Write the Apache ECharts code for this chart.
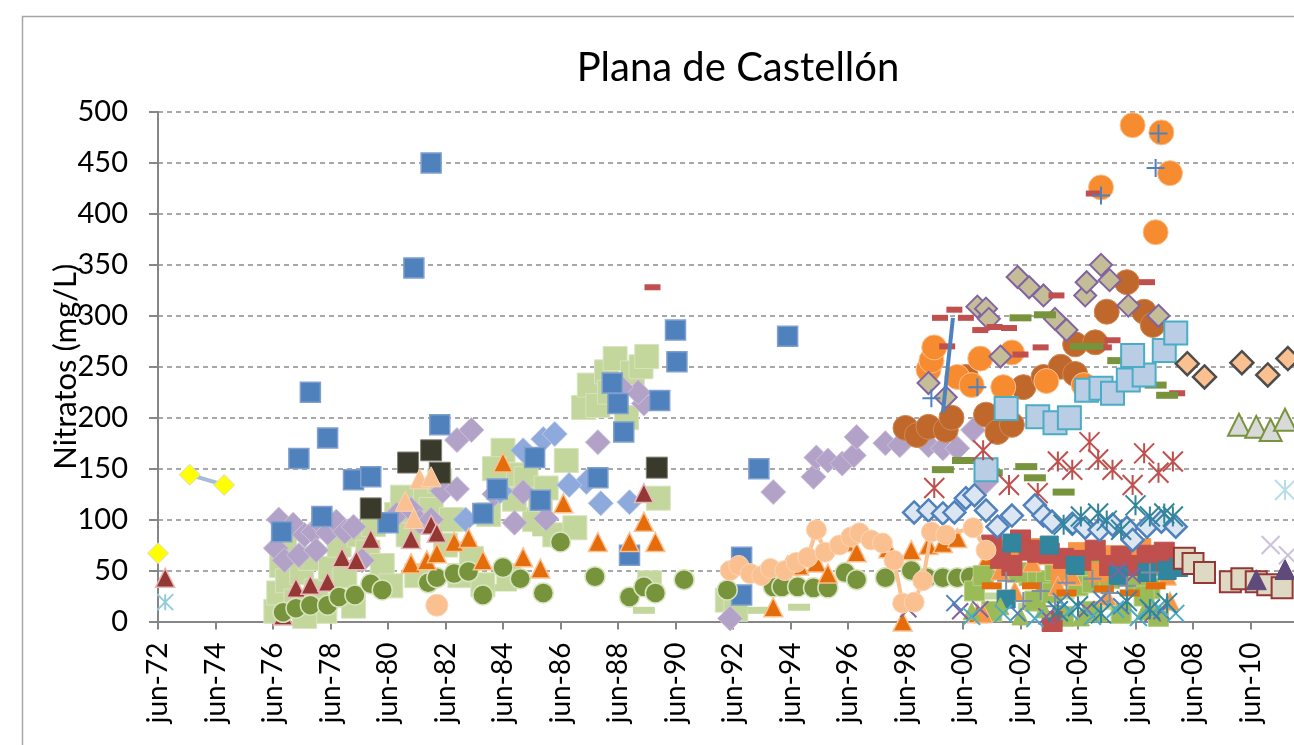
<!DOCTYPE html>
<html><head><meta charset="utf-8">
<script src="https://cdn.jsdelivr.net/npm/echarts@6.0.0/dist/echarts.min.js"></script>
<style>html,body{margin:0;padding:0;background:#fff}#c{width:1294px;height:745px}</style>
</head><body><div id="c"></div>
<script>
// ---------- text ----------
const chartTitle = 'Plana de Castellón';
const yAxisName = 'Nitratos (mg/L)';
const xTickLabels = ['jun-72','jun-74','jun-76','jun-78','jun-80','jun-82','jun-84','jun-86','jun-88','jun-90','jun-92','jun-94','jun-96','jun-98','jun-00','jun-02','jun-04','jun-06','jun-08','jun-10','jun-12'];
const xStart = 1972.5;   // jun-72
const xSpanYears = 40;
const yMin = 0, yMax = 500, yStep = 50;

// ---------- data: [decimal year, mg/L] ----------
const yellowDiamonds = [[1972.5,67],null,[1973.6,144],[1974.8,134]];
const cyanStar = [[1972.75,19]];
const paleGreenSquares = [[1976.6,10],[1976.7,28],[1976.8,55],[1977.0,40],[1977.3,20],[1977.5,48],[1977.8,62],[1978.0,30],[1978.3,10],[1978.5,52],[1978.8,75],[1979.0,45],[1979.3,15],[1979.5,85],[1979.8,68],[1980.0,95],[1980.3,55],[1980.6,35],[1980.8,105],[1981.0,122],[1981.3,100],[1981.5,45],[1981.8,125],[1982.0,110],[1982.3,138],[1982.5,75],[1983.0,45],[1983.4,62],[1983.8,36],[1984.0,105],[1984.5,168],[1984.7,45],[1985.0,144],[1985.3,140],[1985.6,100],[1985.8,120],[1986.0,131],[1986.3,85],[1986.7,158],[1987.0,92],[1987.3,210],[1987.5,232],[1987.8,212],[1988.1,245],[1988.4,258],[1989.0,244],[1989.3,250],[1989.5,260],[1989.9,121],[1989.6,38],[1992.3,21],[1992.6,12],[1984.2,150],[1984.9,120],[1988.2,225],[1988.8,200],[1981.2,85],[1982.7,100],[1976.9,80],[1977.6,5]];
const paleGreenDashes = [[1984.6,33],[1985.9,87],[1989.4,11],[1993.4,11],[1994.8,14],[1983.2,75],[2001.4,25],[2002.8,15],[2004.0,25],[2005.5,15],[2006.8,30]];
const lavenderDiamonds = [[1976.6,72],[1976.7,100],[1976.9,60],[1977.2,95],[1977.4,65],[1977.6,85],[1977.9,88],[1978.2,95],[1978.4,87],[1978.7,98],[1979.0,88],[1979.3,93],[1979.6,60],[1978.0,70],[1980.8,105],[1981.3,110],[1981.6,98],[1982.0,100],[1982.4,128],[1982.9,178],[1983.4,188],[1982.9,130],[1984.2,125],[1984.9,97],[1985.2,127],[1986.0,101],[1987.8,176],[1989.4,214],[1989.2,225],[1988.6,230],[1992.4,3],[1993.9,127],[1995.3,142],[1995.4,161],[1995.8,158],[1996.3,155],[1996.7,163],[1996.8,181],[1997.8,175],[1998.3,173],[1998.8,186],[1999.3,173],[1999.8,170],[2000.3,170],[2000.85,188],[2001.3,137]];
const periwinkleDiamonds = [[1985.2,168],[1985.9,179],[1986.3,184],[1987.4,137],[1987.9,116],[1988.9,117],[1986.8,134],[1984.4,128],[1983.2,100]];
const blueSquares = [[1976.8,88],[1977.4,160],[1977.8,225],[1978.4,180],[1978.2,103],[1979.3,139],[1979.9,142],[1980.5,97],[1981.4,347],[1982.0,450],[1982.3,193],[1983.8,106],[1984.3,130],[1985.6,161],[1985.8,119],[1987.8,141],[1988.3,234],[1988.5,214],[1988.7,186],[1989.95,217],[1990.5,286],[1990.55,255],[1988.9,65],[1992.8,63],[1992.8,26],[1993.4,150],[1994.4,280]];
const blackSquares = [[1979.9,111],[1981.2,156],[1982.0,168],[1982.3,146],[1989.85,151]];
const salmonTriangles = [[1981.1,118],[1981.4,101],[1981.6,140],[1982.0,142]];
const darkRedTriangles = [[1972.75,43],[1976.85,6],[1977.3,33],[1977.8,36],[1978.4,39],[1978.9,63],[1979.4,60],[1979.9,81],[1981.3,81],[1982.0,95],[1982.2,87],[1989.4,126]];
const greenCircles = [[1976.85,9],[1977.3,13],[1977.8,16],[1978.4,16],[1978.8,24],[1979.35,26],[1979.9,37],[1980.3,31],[1981.9,38],[1982.2,43],[1982.8,47],[1983.3,49],[1983.8,26],[1984.5,53],[1985.1,42],[1985.9,28],[1986.5,78],[1987.7,44],[1988.9,24],[1989.4,34],[1989.8,28],[1990.8,41],[1992.3,31],[1993.9,34],[1994.2,34],[1994.75,34],[1995.3,33],[1995.8,33],[1996.4,48],[1996.8,41],[1997.8,43],[1998.7,50],[1999.25,43],[1999.8,43],[2000.3,43],[2000.75,44],[2001.3,46]];
const salmonCircleLone = [[1982.2,16]];
const salmonCircles = [[1992.4,50],[1992.7,55],[1993.1,47],[1993.5,45],[1993.8,52],[1994.3,50],[1994.7,58],[1995.1,63],[1995.4,90],[1995.7,68],[1996.2,75],[1996.6,83],[1996.9,87],[1997.3,80],[1997.7,77],[1998.1,60],[1998.4,18],[1998.8,19],[1999.1,40],[1999.4,88],[1999.9,85],[2000.85,92],[2001.3,70]];
const orangeTriangles = [[1981.3,57],[1981.85,60],[1982.2,67],[1982.8,78],[1983.3,82],[1983.8,60],[1984.5,156],[1985.2,63],[1985.8,52],[1986.6,116],[1987.8,78],[1988.9,78],[1989.4,98],[1989.8,78],[1993.9,14],[1994.4,55],[1994.8,55],[1995.4,58],[1995.8,47],[1996.4,78],[1996.8,68],[1997.9,72],[1998.4,0],[1998.7,70],[1999.3,75],[1999.8,77],[2000.3,82],[2000.85,34],[2001.3,60],[2001.0,8]];
// 1998-2012 wells
const brownCircles = [[1998.5,190],[1998.9,183],[1999.3,191],[1999.9,188],[2000.1,200],[2000.6,240],[2001.3,203],[2001.7,186],[2002.2,193],[2002.6,230],[2003.3,240],[2003.9,250],[2004.4,243],[2004.4,272],[2005.1,274],[2005.5,304],[2006.2,333],[2006.8,304],[2007.1,291]];
const orangeCircles = [[1999.3,247],[1999.4,256],[1999.5,269],[2000.3,240],[2000.8,232],[2001.1,258],[2001.9,230],[2002.2,264],[2003.4,236],[2004.7,232],[2005.3,426],[2006.4,487],[2007.4,480],[2007.7,440],[2007.2,382]];
const tanDiamonds = [[1999.3,234],[1999.9,220],[2001.0,309],[2001.3,307],[2001.4,297],[2001.8,260],[2002.4,338],[2002.8,328],[2003.3,320],[2003.7,297],[2004.1,286],[2004.75,320],[2004.8,333],[2005.3,350],[2005.6,335],[2006.25,310],[2007.3,300]];
const redDashes = [[1989.7,328],[1999.7,298],[2000.2,306],[2000.6,298],[2001.1,286],[2001.6,289],[2002.1,288],[1999.95,270],[2002.5,262],[2003.2,269],[2003.75,320],[2005.7,276],[2006.9,333],[2005.4,269],[2005.05,420],[2007.95,224]];
const oliveDashes = [[2002.5,298],[2003.35,301],[2004.6,270],[2005.0,270],[1999.8,149],[2000.5,158],[2003.0,141],[2004.0,127],[2001.5,146],[2002.7,152],[2005.9,256],[2007.2,232],[2007.6,222]];
const lightBlueSquares = [[2001.3,149],[2002.0,209],[2003.1,201],[2003.7,195],[2004.2,200],[2004.8,227],[2005.3,229],[2005.7,224],[2006.25,237],[2006.8,242],[2006.4,261],[2007.5,266],[2007.9,283]];
const redStars = [[1999.5,131],[2001.2,168],[2002.1,134],[2003.1,126],[2003.8,157],[2004.3,149],[2004.9,176],[2005.2,159],[2005.7,149],[2006.4,134],[2006.8,165],[2007.3,146],[2007.8,157]];
const blueRimDiamonds = [[1998.8,107],[1999.3,109],[1999.8,106],[2000.2,107],[2000.6,121],[2000.9,124],[2001.3,109],[2001.7,93],[2002.2,104],[2003.0,114],[2003.3,104],[2003.6,98],[2004.3,96],[2004.75,92],[2005.25,90],[2005.7,95],[2006.2,92],[2006.4,80],[2006.9,93],[2007.4,98],[2007.9,93]];
const tealStars = [[2004.0,95],[2004.6,103],[2005.2,106],[2005.5,99],[2006.0,90],[2006.5,114],[2007.0,103],[2007.5,106],[2007.8,103],[2003.8,10],[2004.5,15],[2005.3,8],[2006.2,20],[2007.0,12],[2007.6,18]];
const redSquares = [[2001.5,75],[2002.2,55],[2002.5,80],[2002.8,70],[2003.1,68],[2003.5,67],[2004.0,62],[2006.3,55],[2006.9,65],[2007.5,68],[2003.6,0],[2001.8,62],[2004.6,60],[2005.1,70],[2005.6,55],[2006.0,64],[2007.1,58]];
const tealSquares = [[2002.2,77],[2003.5,75],[2008.0,53],[2002.0,22],[2004.4,55],[2005.9,45],[2007.6,50],[2006.9,48]];
const greenBottom = [[2001.5,10],[2002.8,45],[2003.0,20],[2003.4,40],[2004.0,5],[2004.5,35],[2005.0,38],[2005.6,42],[2006.0,8],[2006.3,48],[2007.0,32],[2007.3,5],[2004.2,55],[2005.3,60],[2000.9,30],[2001.2,45],[2002.0,60],[2002.4,48],[2003.7,50],[2004.9,55],[2005.7,58],[2006.5,35],[2007.2,55],[2005.0,10],[2003.6,28],[2006.8,25]];
const orangeSquaresBottom = [[2002.1,70],[2003.2,72],[2004.5,68],[2005.8,65],[2006.7,72],[2007.4,60],[2003.9,45],[2005.2,48]];
const orangeDashesBottom = [[2001.5,35],[2002.9,35],[2004.1,28],[2005.4,32],[2006.3,28],[2007.2,35]];
const orangeBottom = [[2001.2,8],[2001.8,50],[2002.3,30],[2003.4,65],[2003.8,35],[2004.3,45],[2005.5,25],[2006.6,60],[2007.6,45],[2007.7,20],[2002.9,58]];
const purpleX = [[1998.6,12],[2000.4,10],[2001.1,12],[2003.4,5],[2004.8,12],[2005.9,50],[2006.4,45],[2007.1,8]];
const blueX = [[2000.2,18],[2002.4,8],[2003.9,20],[2005.3,22],[2006.0,15],[2007.4,10]];
const tealX = [[2000.8,5],[2001.9,8],[2003.0,3],[2004.2,10],[2005.0,5],[2005.8,12],[2006.6,4],[2007.3,14],[2007.9,8]];
const grayPlus = [[2002.0,40],[2003.2,30],[2004.1,38],[2005.0,42],[2006.2,35],[2007.0,48],[2002.6,20],[2003.7,15],[2005.6,28]];
const oliveTriangles = [[2000.8,10],[2001.8,15],[2002.5,5],[2003.3,12],[2005.2,8],[2006.8,10],[2004.6,4]];
const bluePlus = [[2005.3,418],[2007.2,445],[2007.3,479],[1999.4,219],[2001.0,230]];
const blueLine = [[2000.15,298],[1999.8,205]];
const peachDiamonds = [[2008.3,253],[2008.9,240],[2010.2,254],[2011.1,242],[2011.8,258]];
const tanSquares = [[2008.2,62],[2008.5,57],[2008.9,48],[2009.8,39],[2010.2,42],[2010.7,39],[2011.1,36],[2011.6,33]];
const purpleTriangles = [[2010.7,41],[2011.7,51]];
const grayTriangles = [[2010.1,193],[2010.7,191],[2011.2,188],[2011.7,198]];
const paleCyanStar = [[2011.7,129]];
const lavenderX = [[2011.2,75],[2011.8,65]];

// ---------- build ----------
const conv = a => a.map(p => p ? [p[0] - xStart, p[1]] : '-');
const XS = 'path://M0,0L20,20M20,0L0,20';
const STAR = 'path://M0,0L20,20M20,0L0,20M10,0L10,20';
const PLUS = 'path://M10,0L10,20M0,10L20,10';

function sc(data, symbol, size, fill, border, bw) {
  return {type:'scatter', data: conv(data), symbol, symbolSize: size, clip:false,
    itemStyle:{color: fill, borderColor: border, borderWidth: bw, opacity: 1},
    emphasis:{disabled:true}};
}
function ln(data, symbol, size, fill, border, bw, lineColor, lw) {
  return {type:'line', data: conv(data), symbol, symbolSize: size, clip:false, connectNulls:false,
    showAllSymbol:true,
    lineStyle:{color: lineColor, width: lw},
    itemStyle:{color: fill, borderColor: border, borderWidth: bw, opacity: 1},
    emphasis:{disabled:true}};
}

const series = [
  sc(paleGreenSquares,'rect',24,'#C3D69B','#D7E4BD',1),
  sc(paleGreenDashes,'rect',[22,7],'#C3D69B','#C3D69B',0),
  sc(lavenderDiamonds,'diamond',25,'#B3A2C7','#CCC1DA',1),
  sc(periwinkleDiamonds,'diamond',25,'#8EA9DB','#B4C7E7',1),
  sc(blueSquares,'rect',20,'#4F81BD','#7F9FCF',1.5),
  sc(blackSquares,'rect',21,'#3A3A2C','#7F7F6F',1),
  sc(salmonTriangles,'triangle',20,'#FAC090','#FCD5B5',1),
  ln(salmonCircles,'circle',20,'#FAC090','#FCD5B5',1,'#FAC090',4),
  sc(salmonCircleLone,'circle',22,'#FAC090','#FCD5B5',1),
  sc(darkRedTriangles,'triangle',19,'#953735','#E6B9B8',1.5),
  sc(greenCircles,'circle',20,'#77933C','#D7E4BD',1.5),
  sc(orangeTriangles,'triangle',19,'#E46C0A','#FAC090',1.5),
  ln(yellowDiamonds,'diamond',21,'#FFFF00','#D9D9D9',1,'#A6BDD7',4),
  sc(cyanStar,STAR,16,'#93CDDD','#93CDDD',2),
  sc(brownCircles,'circle',25,'#C0672B','#D08A55',1),
  sc(orangeCircles,'circle',25,'#F68B2F','#FAC090',1),
  sc(tanDiamonds,'diamond',22,'#C4BD97','#8064A2',2),
  sc(greenBottom,'rect',20,'#9BBB59','#B7CF85',1),
  sc(orangeSquaresBottom,'rect',19,'#F79646','#F79646',1),
  sc(orangeBottom,'triangle',19,'#F79646','#FAC090',1),
  sc(redSquares,'rect',20,'#C0504D','#C0504D',1),
  sc(tealSquares,'rect',18,'#31859C','#31859C',1),
  sc(orangeDashesBottom,'rect',[20,7],'#E46C0A','#E46C0A',0),
  sc(oliveTriangles,'triangle',17,'#9BBB59','#9BBB59',1),
  sc(purpleX,XS,16,'#8064A2','#8064A2',2),
  sc(blueX,XS,16,'#4F81BD','#4F81BD',2),
  sc(tealX,XS,17,'#4BACC6','#4BACC6',2),
  sc(grayPlus,PLUS,18,'#7F8FA6','#7F8FA6',2),
  sc(redDashes,'rect',[16,6],'#C0504D','#C0504D',0),
  sc(oliveDashes,'rect',[22,7],'#77933C','#9BBB59',0),
  sc(lightBlueSquares,'rect',23,'#B9CDE5','#4BACC6',2),
  sc(redStars,STAR,20,'#C0504D','#C0504D',2),
  sc(blueRimDiamonds,'diamond',22,'#DCE6F2','#4F81BD',2.5),
  sc(tealStars,STAR,20,'#31859C','#31859C',2),
  {type:'line', data: conv(blueLine), symbol:'none', clip:false, lineStyle:{color:'#4F81BD', width:4}},
  sc(bluePlus,PLUS,18,'#4F81BD','#4F81BD',2),
  sc(peachDiamonds,'diamond',23,'#FAC090','#4D4D4D',2.5),
  sc(tanSquares,'rect',21,'#DDD9C3','#953735',2),
  sc(purpleTriangles,'triangle',20,'#604A7B','#604A7B',1),
  sc(grayTriangles,'triangle',22,'#D9D9D9','#77933C',2),
  sc(paleCyanStar,STAR,20,'#B7DEE8','#B7DEE8',2),
  sc(lavenderX,XS,18,'#CCC1DA','#CCC1DA',2)
];

const FONT = 'Lato';
const chart = echarts.init(document.getElementById('c'), null, {renderer:'canvas'});
chart.setOption({
  animation:false,
  backgroundColor:'#ffffff',
  graphic:[
    {type:'rect', shape:{x:22.5, y:16.5, width:1400, height:900}, style:{fill:'none', stroke:'#A6A6A6', lineWidth:1.5}, silent:true, z:-1},
    {type:'text', x:738, y:68, style:{text: chartTitle, font:'40px Lato', fill:'#000', textAlign:'center', textVerticalAlign:'middle'}}
  ],
  grid:{left:158, top:112, right:-14, bottom:123.5, outerBoundsMode:'none', containLabel:false},
  xAxis:{type:'value', min:0, max:xSpanYears, interval:2,
    axisLine:{show:true, lineStyle:{color:'#868686', width:2}},
    axisTick:{show:true, length:8, lineStyle:{color:'#868686', width:2}},
    splitLine:{show:false},
    axisLabel:{rotate:90, margin:21, color:'#000', fontFamily:FONT, fontSize:28,
      formatter: v => xTickLabels[Math.round(v/2)] || ''}
  },
  yAxis:{type:'value', min:yMin, max:yMax, interval:yStep,
    name: yAxisName, nameLocation:'middle', nameGap:77, nameMoveOverlap:false,
    nameTextStyle:{color:'#000', fontFamily:FONT, fontSize:31},
    axisLine:{show:true, lineStyle:{color:'#868686', width:2}},
    axisTick:{show:true, length:9, lineStyle:{color:'#868686', width:2}},
    splitLine:{show:true, lineStyle:{color:'#8C8C8C', width:1.5, type:[5,4]}},
    axisLabel:{margin:30, color:'#000', fontFamily:FONT, fontSize:29}
  },
  series
});
</script>
</body></html>
